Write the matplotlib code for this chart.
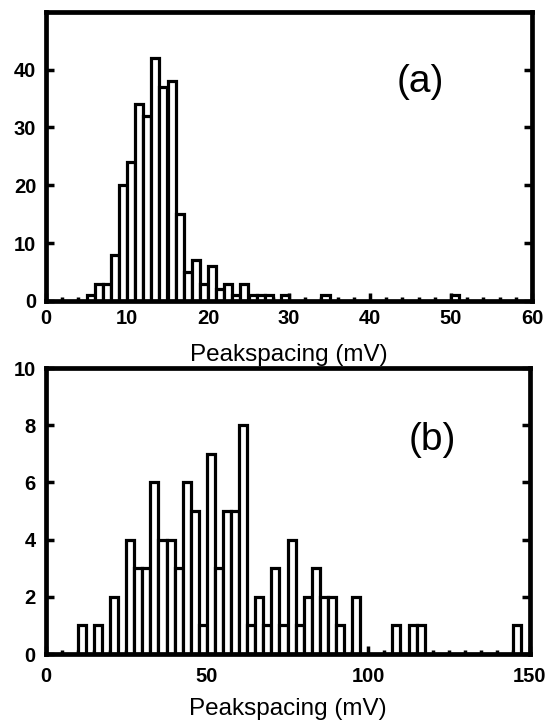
import matplotlib
matplotlib.use("Agg")
import matplotlib.pyplot as plt
from matplotlib.ticker import MultipleLocator
import numpy as np

plt.rcParams['font.family'] = ['Liberation Sans', 'DejaVu Sans']

# ---- data: panel (a) ----
a_bin_start = 0.0
a_bin_width = 1.0
a_counts = [0, 0, 0, 0, 0, 1, 3, 3, 8, 20,
            24, 34, 32, 42, 37, 38, 15, 5, 7, 3,
            6, 2, 3, 1, 3, 1, 1, 1, 0, 1,
            0, 0, 0, 0, 1, 0, 0, 0, 0, 0,
            0, 0, 0, 0, 0, 0, 0, 0, 0, 0,
            1, 0, 0, 0, 0, 0, 0, 0, 0, 0]
a_xticks = [0, 10, 20, 30, 40, 50, 60]
a_yticks = [0, 10, 20, 30, 40]

# ---- data: panel (b) ----
b_bin_start = 0.0
b_bin_width = 2.5
b_counts = [0, 0, 0, 0, 1, 0, 1, 0, 2, 0,
            4, 3, 3, 6, 4, 4, 3, 6, 5, 1,
            7, 3, 5, 5, 8, 1, 2, 1, 3, 1,
            4, 1, 2, 3, 2, 2, 1, 0, 2, 0,
            0, 0, 0, 1, 0, 1, 1, 0, 0, 0,
            0, 0, 0, 0, 0, 0, 0, 0, 1, 0]
b_xticks = [0, 50, 100, 150]
b_yticks = [0, 2, 4, 6, 8, 10]

xlabel_text = "Peakspacing (mV)"

W, H = 553, 721
fig = plt.figure(figsize=(W / 100, H / 100), dpi=100)


def px_axes(x0, x1, y0, y1):
    return fig.add_axes([x0 / W, 1 - y1 / H, (x1 - x0) / W, (y1 - y0) / H])


def draw(ax, start, width, counts, xlim, ylim, xticks, yticks, xminor,
         label, label_xy, xpad, lpad):
    counts = np.asarray(counts, dtype=float)
    lefts = start + width * np.arange(len(counts))
    m = counts > 0
    ax.bar(lefts[m], counts[m], width=width, align='edge', color='white',
           edgecolor='black', linewidth=2.3, zorder=2)
    ax.set_xlim(*xlim)
    ax.set_ylim(*ylim)
    ax.set_xticks(xticks)
    ax.set_yticks(yticks)
    ax.xaxis.set_minor_locator(MultipleLocator(xminor))
    for s in ax.spines.values():
        s.set_linewidth(3.4)
        s.set_zorder(5)
    ax.tick_params(axis='both', which='major', direction='in', length=6,
                   width=2.5, labelsize=14.5, left=True, right=True,
                   top=False, bottom=True)
    ax.tick_params(axis='x', which='major', pad=xpad)
    ax.tick_params(axis='y', which='major', pad=7)
    ax.tick_params(axis='x', which='minor', direction='in', length=3,
                   width=2.5, top=False, bottom=True)
    for t in ax.get_xticklabels() + ax.get_yticklabels():
        t.set_fontweight('bold')
    ax.set_xlabel(xlabel_text, fontsize=17.5, labelpad=lpad)
    ax.text(label_xy[0], label_xy[1], label, fontsize=28,
            ha='center', va='center')


ax_a = px_axes(46, 532, 11.7, 301)
draw(ax_a, a_bin_start, a_bin_width, a_counts, (0, 60), (0, 50),
     a_xticks, a_yticks, 2, "(a)", (46.2, 37.8), 6, 11)

ax_b = px_axes(45.5, 529.5, 368, 654)
draw(ax_b, b_bin_start, b_bin_width, b_counts, (0, 150), (0, 10),
     b_xticks, b_yticks, 5, "(b)", (120, 7.5), 9, 9)

fig.savefig("out.png", dpi=100)
